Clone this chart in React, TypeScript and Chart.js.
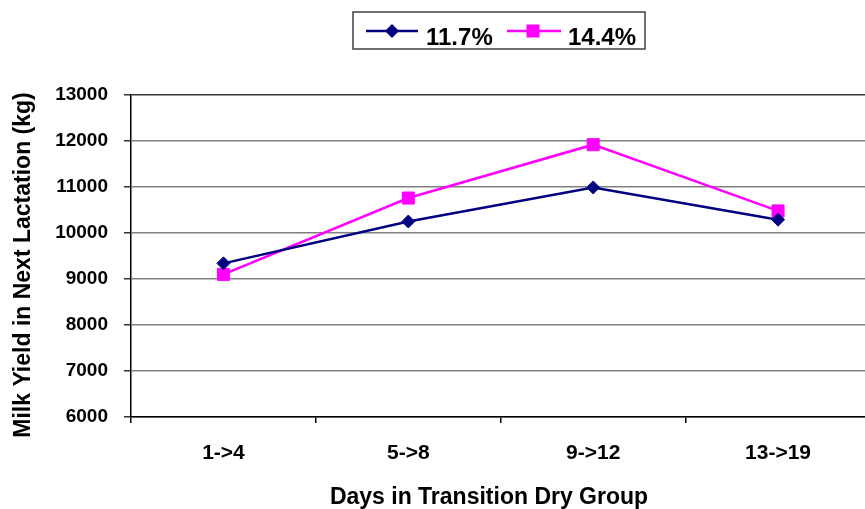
import React, { useEffect, useRef } from "react";
import { Chart, registerables } from "chart.js";

Chart.register(...registerables);

// Transition-dry-group length categories
const categories = ["1->4", "5->8", "9->12", "13->19"];

// Milk yield (kg) in the next lactation per group
const series117 = [9340, 10250, 10990, 10290];
const series144 = [9100, 10760, 11920, 10480];

const seriesLabels = ["11.7%", "14.4%"];
const seriesColors = ["#000080", "#FF00FF"];

const yTitle = "Milk Yield in Next Lactation (kg)";
const xTitle = "Days in Transition Dry Group";

const FONT = "'Liberation Sans', Arial, sans-serif";

// Boxed legend with a short line and marker per series, drawn on the canvas
const boxedLegend = {
  id: "boxedLegend",
  afterDraw(chart: any) {
    const ctx = chart.ctx as CanvasRenderingContext2D;
    ctx.save();
    ctx.fillStyle = "#ffffff";
    ctx.fillRect(353, 12, 292, 37);
    ctx.strokeStyle = "#404040";
    ctx.lineWidth = 1.5;
    ctx.strokeRect(353, 12, 292, 37);

    const items = [
      { x0: 366, x1: 418, mx: 392, tx: 426, style: "rectRot" },
      { x0: 507, x1: 561, mx: 533, tx: 568, style: "rect" },
    ];
    const ly = 31;
    chart.data.datasets.forEach((ds: any, i: number) => {
      const it = items[i];
      ctx.strokeStyle = ds.borderColor;
      ctx.lineWidth = 2.5;
      ctx.beginPath();
      ctx.moveTo(it.x0, ly);
      ctx.lineTo(it.x1, ly);
      ctx.stroke();
      ctx.fillStyle = ds.borderColor;
      ctx.beginPath();
      if (it.style === "rectRot") {
        const r = 7;
        ctx.moveTo(it.mx - r, ly);
        ctx.lineTo(it.mx, ly - r);
        ctx.lineTo(it.mx + r, ly);
        ctx.lineTo(it.mx, ly + r);
        ctx.closePath();
      } else {
        ctx.rect(it.mx - 6.5, ly - 6.5, 13, 13);
      }
      ctx.fill();
      ctx.fillStyle = "#000";
      ctx.font = `bold 24px ${FONT}`;
      ctx.textBaseline = "alphabetic";
      ctx.textAlign = "left";
      ctx.fillText(ds.label, it.tx, 45);
    });
    ctx.restore();
  },
};

// Axis titles placed beside the plot
const axisTitles = {
  id: "axisTitles",
  afterDraw(chart: any) {
    const ctx = chart.ctx as CanvasRenderingContext2D;
    ctx.save();
    ctx.fillStyle = "#000";
    ctx.font = `bold 23px ${FONT}`;
    ctx.textAlign = "center";
    ctx.textBaseline = "middle";
    ctx.fillText(xTitle, 489, 498);
    ctx.translate(24, 265);
    ctx.rotate(-Math.PI / 2);
    ctx.fillText(yTitle, 0, 0);
    ctx.restore();
  },
};

export default function App() {
  const canvasRef = useRef<HTMLCanvasElement | null>(null);

  useEffect(() => {
    if (!canvasRef.current) return;
    Chart.defaults.font.family = FONT;
    const chart = new Chart(canvasRef.current, {
      type: "line",
      data: {
        labels: categories,
        datasets: [
          {
            label: seriesLabels[0],
            data: series117,
            borderColor: seriesColors[0],
            backgroundColor: seriesColors[0],
            borderWidth: 2.5,
            pointStyle: "rectRot",
            pointRadius: 6.5,
            pointBorderWidth: 1,
            pointBackgroundColor: seriesColors[0],
            pointBorderColor: seriesColors[0],
            tension: 0,
          },
          {
            label: seriesLabels[1],
            data: series144,
            borderColor: seriesColors[1],
            backgroundColor: seriesColors[1],
            borderWidth: 2.5,
            pointStyle: "rect",
            pointRadius: 8.5,
            pointBorderWidth: 1,
            pointBackgroundColor: seriesColors[1],
            pointBorderColor: seriesColors[1],
            tension: 0,
          },
        ],
      },
      options: {
        responsive: false,
        animation: false,
        layout: { padding: { top: 95, right: 5, left: 0, bottom: 0 } },
        plugins: {
          legend: { display: false },
          tooltip: { enabled: false },
        },
        scales: {
          x: {
            offset: true,
            ticks: {
              color: "#000",
              font: { size: 21, weight: "bold" },
              padding: 18,
              maxRotation: 0,
            },
            grid: {
              offset: true,
              drawOnChartArea: false,
              tickLength: 6,
              tickColor: "#000",
              lineWidth: 1.5,
            },
            border: { color: "#000", width: 1.5 },
            afterFit: (s: any) => {
              s.height = 92;
            },
          },
          y: {
            min: 6000,
            max: 13000,
            ticks: {
              stepSize: 1000,
              color: "#000",
              font: { size: 19, weight: "bold" },
              padding: 16,
              callback: (v: any) => String(v),
            },
            grid: {
              color: (c: any) => (c.index === 7 ? "#333333" : "#808080"),
              lineWidth: 1.5,
              tickLength: 7,
              tickColor: "#333333",
            },
            border: { color: "#000", width: 1.5 },
            afterFit: (s: any) => {
              s.width = 131;
            },
          },
        },
      },
      plugins: [boxedLegend, axisTitles],
    });
    return () => chart.destroy();
  }, []);

  return (
    <div
      style={{
        position: "absolute",
        left: 0,
        top: 0,
        width: 865,
        height: 509,
        overflow: "hidden",
        background: "#fff",
      }}
    >
      <canvas ref={canvasRef} width={880} height={509} style={{ display: "block" }} />
    </div>
  );
}
